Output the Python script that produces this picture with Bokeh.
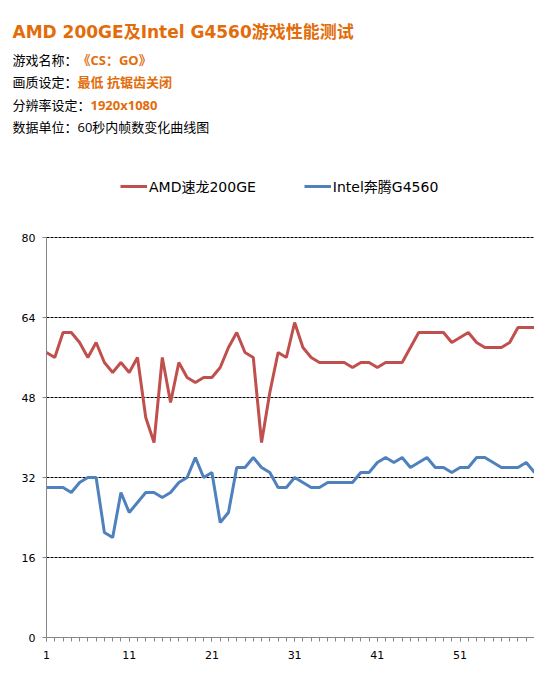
from bokeh.plotting import figure
from bokeh.models import (ColumnDataSource, FixedTicker, Legend, LegendItem, Range1d, Grid)
from bokeh.core.properties import value
from bokeh.embed import file_html
from bokeh.resources import INLINE

# ---------------- data ----------------
seconds = list(range(1, 61))
amd_fps = [57, 56, 61, 61, 59, 56, 59, 55, 53, 55,
           53, 56, 44, 39, 56, 47, 55, 52, 51, 52,
           52, 54, 58, 61, 57, 56, 39, 49, 57, 56,
           63, 58, 56, 55, 55, 55, 55, 54, 55, 55,
           54, 55, 55, 55, 58, 61, 61, 61, 61, 59,
           60, 61, 59, 58, 58, 58, 59, 62, 62, 62]
intel_fps = [30, 30, 30, 29, 31, 32, 32, 21, 20, 29,
             25, 27, 29, 29, 28, 29, 31, 32, 36, 32,
             33, 23, 25, 34, 34, 36, 34, 33, 30, 30,
             32, 31, 30, 30, 31, 31, 31, 31, 33, 33,
             35, 36, 35, 36, 34, 35, 36, 34, 34, 33,
             34, 34, 36, 36, 35, 34, 34, 34, 35, 33]
y_ticks = [0, 16, 32, 48, 64, 80]
grid_ticks = [16, 32, 48, 64, 80]
x_label_ticks = [1, 11, 21, 31, 41, 51]
series_names = ["AMD速龙200GE", "Intel奔腾G4560"]
series_colors = ["#C0504D", "#4F81BD"]

title_text = "AMD 200GE及Intel G4560游戏性能测试"
info_keys = ["游戏名称：", "画质设定：", "分辨率设定：", "数据单位：60秒内帧数变化曲线图"]
info_vals = ["《CS：GO》", "最低 抗锯齿关闭", "1920x1080", ""]

ORANGE = "#E36C0A"
TITLE_FONT = "DejaVu Sans, Noto Sans CJK SC"
INFO_FONT = "Open Sans, Noto Sans CJK SC"
LEG_FONT = "DejaVu Sans, Noto Sans CJK SC"

# ---------------- layout geometry (pixels) ----------------
W, H = 534, 664
PLOT_L, PLOT_R, PLOT_T, PLOT_B = 46, 534, 237, 637
Y_MAX = y_ticks[-1]
px_per_x = (PLOT_R - PLOT_L) / (seconds[-1] - seconds[0])
px_per_y = (PLOT_B - PLOT_T) / Y_MAX
x_start = seconds[0] - PLOT_L / px_per_x
x_end = seconds[-1] + (W - PLOT_R) / px_per_x
y_start = -(H - PLOT_B) / px_per_y
y_end = Y_MAX + PLOT_T / px_per_y

p = figure(width=W, height=H, output_backend="svg", toolbar_location=None, title=None,
           x_range=Range1d(x_start, x_end), y_range=Range1d(y_start, y_end),
           min_border_left=0, min_border_right=0, min_border_top=0,
           min_border_bottom=0, outline_line_color=None)
p.background_fill_color = "white"
p.border_fill_color = "white"
p.extra_x_ranges = {"px": Range1d(0, W)}
p.extra_y_ranges = {"px": Range1d(H, 0)}

# grid lines (dashed), limited to the data span
p.xgrid.grid_line_color = None
p.ygrid.grid_line_color = None
if "cross_bounds" in Grid.properties():
    g = Grid(dimension=1, ticker=FixedTicker(ticks=grid_ticks),
             cross_bounds=(seconds[0], seconds[-1]),
             grid_line_color="#000000", grid_line_dash="3 1", grid_line_width=1)
    p.add_layout(g)
else:
    p.segment(x0=[seconds[0]] * len(grid_ticks), x1=[seconds[-1]] * len(grid_ticks),
              y0=grid_ticks, y1=grid_ticks, line_color="#000000",
              line_dash="3 1", line_width=1)

src = ColumnDataSource(dict(x=seconds, amd=amd_fps, intel=intel_fps))
r1 = p.line("x", "amd", source=src, line_color=series_colors[0], line_width=3)
r2 = p.line("x", "intel", source=src, line_color=series_colors[1], line_width=3)

# axes, fixed at the data origin
p.xaxis.fixed_location = 0
p.xaxis.bounds = (seconds[0], seconds[-1])
p.yaxis.fixed_location = seconds[0]
p.yaxis.bounds = (0, Y_MAX)
p.xaxis.ticker = FixedTicker(ticks=x_label_ticks, minor_ticks=seconds)
p.yaxis.ticker = FixedTicker(ticks=y_ticks)
for ax in (p.xaxis, p.yaxis):
    ax.axis_line_color = "#868686"
    ax.axis_line_width = 1
    ax.major_tick_line_color = "#868686"
    ax.minor_tick_line_color = "#868686"
    ax.major_tick_in = 0
    ax.major_tick_out = 4
    ax.minor_tick_in = 0
    ax.minor_tick_out = 4
    ax.major_label_text_font = "DejaVu Sans"
    ax.major_label_text_font_size = "11px"
    ax.major_label_text_color = "#000000"
p.yaxis.minor_tick_line_color = None
p.yaxis.major_label_standoff = 7
p.xaxis.major_label_standoff = 9

# header texts in pixel coordinates
p.text(x=[12], y=[31.5], text=[title_text], text_font=value(TITLE_FONT),
       text_font_size="17px", text_font_style="bold", text_color=ORANGE,
       text_baseline="middle", x_range_name="px", y_range_name="px")
rows = [59.5, 81.5, 104.5, 126.5]
p.text(x=[12] * len(info_keys), y=rows, text=info_keys, text_font=value(INFO_FONT),
       text_font_size="13px", text_color="#000000", text_baseline="middle",
       x_range_name="px", y_range_name="px")
val_x = [12 + 13 * len(k) for k in info_keys]
p.text(x=val_x, y=rows, text=info_vals, text_font=value(INFO_FONT),
       text_font_size="13px", text_font_style="bold", text_color=ORANGE,
       text_baseline="middle", x_range_name="px", y_range_name="px")

legend = Legend(items=[LegendItem(label=series_names[0], renderers=[r1]),
                       LegendItem(label=series_names[1], renderers=[r2])],
                orientation="horizontal", location=(120, H - 196),
                padding=0, margin=0, spacing=48, label_standoff=2,
                glyph_width=27, glyph_height=14, label_height=14,
                label_text_font=LEG_FONT, label_text_font_size="14px",
                label_text_color="#000000",
                border_line_color=None, background_fill_alpha=0)
p.add_layout(legend, "center")

open("out.html", "w").write(file_html(p, INLINE))
